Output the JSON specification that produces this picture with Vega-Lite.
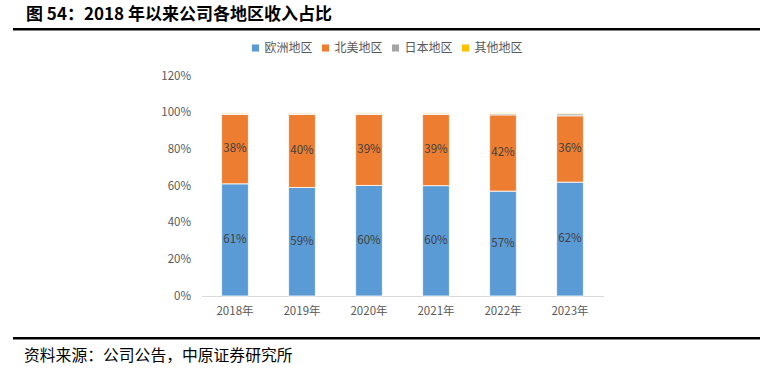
{
  "$schema": "https://vega.github.io/schema/vega-lite/v6.json",
  "background": "white",
  "padding": {"left": 13, "top": 5, "right": 5, "bottom": 5},
  "autosize": {"type": "pad"},
  "spacing": 11,
  "center": true,
  "resolve": {"legend": {"color": "independent"}},
  "config": {
    "font": "Noto Sans CJK SC",
    "view": {"stroke": null}
  },
  "datasets": {
    "share": [
      {"year": "2018年", "region": "欧洲地区", "order": 1, "value": 0.612},
      {"year": "2018年", "region": "北美地区", "order": 2, "value": 0.378},
      {"year": "2018年", "region": "日本地区", "order": 3, "value": 0.007},
      {"year": "2018年", "region": "其他地区", "order": 4, "value": 0.003},
      {"year": "2019年", "region": "欧洲地区", "order": 1, "value": 0.592},
      {"year": "2019年", "region": "北美地区", "order": 2, "value": 0.398},
      {"year": "2019年", "region": "日本地区", "order": 3, "value": 0.007},
      {"year": "2019年", "region": "其他地区", "order": 4, "value": 0.003},
      {"year": "2020年", "region": "欧洲地区", "order": 1, "value": 0.603},
      {"year": "2020年", "region": "北美地区", "order": 2, "value": 0.387},
      {"year": "2020年", "region": "日本地区", "order": 3, "value": 0.007},
      {"year": "2020年", "region": "其他地区", "order": 4, "value": 0.003},
      {"year": "2021年", "region": "欧洲地区", "order": 1, "value": 0.602},
      {"year": "2021年", "region": "北美地区", "order": 2, "value": 0.388},
      {"year": "2021年", "region": "日本地区", "order": 3, "value": 0.007},
      {"year": "2021年", "region": "其他地区", "order": 4, "value": 0.003},
      {"year": "2022年", "region": "欧洲地区", "order": 1, "value": 0.572},
      {"year": "2022年", "region": "北美地区", "order": 2, "value": 0.416},
      {"year": "2022年", "region": "日本地区", "order": 3, "value": 0.008},
      {"year": "2022年", "region": "其他地区", "order": 4, "value": 0.004},
      {"year": "2023年", "region": "欧洲地区", "order": 1, "value": 0.621},
      {"year": "2023年", "region": "北美地区", "order": 2, "value": 0.362},
      {"year": "2023年", "region": "日本地区", "order": 3, "value": 0.011},
      {"year": "2023年", "region": "其他地区", "order": 4, "value": 0.004}
    ]
  },
  "vconcat": [
    {
      "width": 745,
      "height": 0.5,
      "data": {"values": []},
      "mark": "point",
      "view": {"stroke": "black", "strokeWidth": 2},
      "title": {
        "text": "图 54：2018 年以来公司各地区收入占比",
        "anchor": "start",
        "dx": 12,
        "offset": 5,
        "fontSize": 17,
        "fontWeight": "bold",
        "font": "Noto Sans CJK SC",
        "color": "black"
      }
    },
    {
      "spacing": 0,
      "resolve": {"legend": {"color": "independent"}},
      "hconcat": [
        {
          "width": 1,
          "height": 220,
          "data": {"values": []},
          "mark": "point"
        },
        {
          "width": 402,
          "height": 220,
          "data": {"name": "share"},
          "layer": [
            {
              "mark": {"type": "bar", "stroke": "white", "strokeWidth": 0.8},
              "encoding": {
                "x": {
                  "field": "year",
                  "type": "nominal",
                  "scale": {"paddingInner": 0.6, "paddingOuter": 0.3},
                  "axis": {
                    "title": null,
                    "labelAngle": 0,
                    "labelColor": "#595959",
                    "labelFontSize": 11.5,
                    "labelPadding": 9,
                    "ticks": false,
                    "domainColor": "#D9D9D9",
                    "domainWidth": 1,
                    "minExtent": 30,
                    "maxExtent": 30
                  }
                },
                "y": {
                  "field": "value",
                  "type": "quantitative",
                  "stack": "zero",
                  "scale": {"domain": [0, 1.2], "nice": false},
                  "axis": {
                    "title": null,
                    "format": ".0%",
                    "tickCount": 6,
                    "labelOverlap": false,
                    "labelColor": "#595959",
                    "labelFontSize": 11.5,
                    "labelPadding": 11,
                    "ticks": false,
                    "domain": false,
                    "grid": false,
                    "minExtent": 37,
                    "maxExtent": 37
                  }
                },
                "color": {
                  "field": "region",
                  "type": "nominal",
                  "scale": {
                    "domain": ["欧洲地区", "北美地区", "日本地区", "其他地区"],
                    "range": ["#5B9BD5", "#ED7D31", "#A5A5A5", "#FFC000"]
                  },
                  "legend": {
                    "title": null,
                    "orient": "none",
                    "direction": "horizontal",
                    "legendX": 48,
                    "legendY": -34,
                    "symbolType": "square",
                    "symbolSize": 50,
                    "symbolStrokeWidth": 0,
                    "labelColor": "#595959",
                    "labelFontSize": 12,
                    "labelOffset": 3,
                    "columnPadding": 6
                  }
                },
                "order": {"field": "order", "type": "quantitative"}
              }
            },
            {
              "transform": [
                {"stack": "value", "groupby": ["year"], "sort": [{"field": "order"}], "as": ["v0", "v1"]},
                {"filter": "datum.order <= 2"},
                {"calculate": "(datum.v0 + datum.v1) / 2", "as": "mid"}
              ],
              "mark": {"type": "text", "color": "#404040", "fontSize": 11.5, "baseline": "middle"},
              "encoding": {
                "x": {"field": "year", "type": "nominal"},
                "y": {"field": "mid", "type": "quantitative"},
                "text": {"field": "value", "type": "quantitative", "format": ".0%"}
              }
            }
          ]
        },
        {
          "width": 11,
          "height": 220,
          "data": {"values": []},
          "mark": "point"
        }
      ]
    },
    {
      "width": 745,
      "height": 0.5,
      "data": {"values": []},
      "mark": "point",
      "view": {"stroke": "black", "strokeWidth": 2},
      "title": {
        "text": "资料来源：公司公告，中原证券研究所",
        "orient": "bottom",
        "anchor": "start",
        "dx": 10,
        "offset": 10,
        "fontSize": 15.8,
        "fontWeight": "normal",
        "font": "Noto Sans CJK SC",
        "color": "black"
      }
    }
  ]
}
